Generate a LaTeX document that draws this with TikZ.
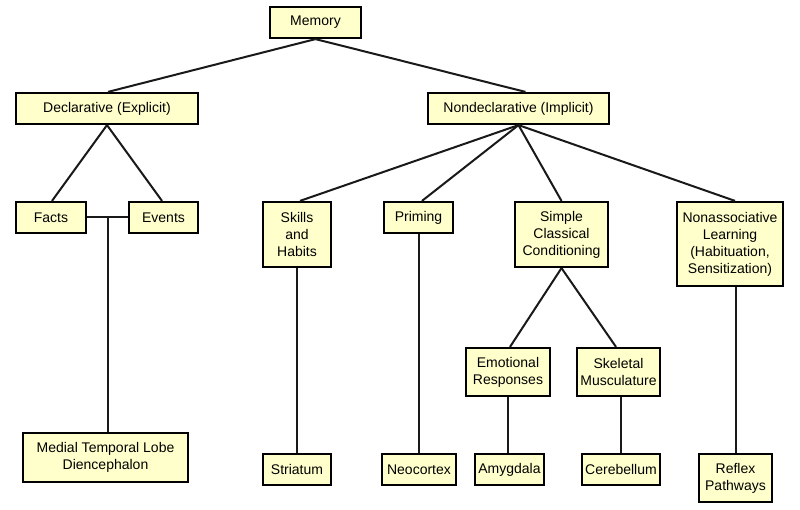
\documentclass[tikz,border=0pt]{standalone}
\usepackage{fontspec}
\setmainfont{Liberation Sans}
\usetikzlibrary{calc}
\definecolor{boxfill}{HTML}{FFFFCC}
\begin{document}
\begin{tikzpicture}[x=1pt,y=-1pt,
  box/.style={draw=black,fill=boxfill,line width=2.2pt,inner sep=0pt,align=center,
    font=\fontsize{14pt}{17pt}\selectfont},
  link/.style={draw=black!90,line width=2pt}]
\useasboundingbox[fill=white] (0,0) rectangle (800,510);
\node[box,minimum width=91,minimum height=31] (mem) at (315.5,22.5) {Memory};
\node[box,minimum width=182,minimum height=31] (decl) at (107,108.5) {Declarative (Explicit)};
\node[box,minimum width=181,minimum height=31] (nd) at (518.5,108.5) {Nondeclarative (Implicit)};
\node[box,minimum width=70,minimum height=31] (facts) at (51,217.5) {Facts};
\node[box,minimum width=69,minimum height=31] (events) at (163.5,217.5) {Events};
\node[box,minimum width=68,minimum height=65] (skills) at (297,234.5) {Skills\\and\\Habits};
\node[box,minimum width=69,minimum height=31] (prim) at (418.5,217.5) {Priming};
\node[box,minimum width=93,minimum height=65] (scc) at (561.5,234.5) {Simple\\Classical\\Conditioning};
\node[box,minimum width=106,minimum height=84] (na) at (730,244) {Nonassociative\\Learning\\(Habituation,\\Sensitization)};
\node[box,minimum width=84,minimum height=48] (emo) at (508,372) {Emotional\\Responses};
\node[box,minimum width=83,minimum height=48] (skel) at (618.5,372) {Skeletal\\Musculature};
\node[box,minimum width=165,minimum height=49] (mtl) at (105.5,457.5) {Medial Temporal Lobe\\Diencephalon};
\node[box,minimum width=68,minimum height=31] (str) at (297,469.5) {Striatum};
\node[box,minimum width=74,minimum height=31] (neo) at (419,469.5) {Neocortex};
\node[box,minimum width=69,minimum height=31] (amy) at (509.5,469.5) {Amygdala};
\node[box,minimum width=78,minimum height=31] (cer) at (621,469.5) {Cerebellum};
\node[box,minimum width=73,minimum height=48] (ref) at (735.5,478) {Reflex\\Pathways};
\coordinate (j) at ($(facts.east)!0.5!(events.west)$);
\draw[link] (mem.south) -- ([xshift=1pt]decl.north);
\draw[link] (mem.south) -- ([xshift=7pt]nd.north);
\draw[link] (decl.south) -- ([xshift=1pt]facts.north);
\draw[link] (decl.south) -- ([xshift=-1.5pt]events.north);
\draw[link] (facts.east) -- (events.west);
\draw[link] (j) -- (j |- mtl.north);
\draw[link] (nd.south) -- ([xshift=3pt]skills.north);
\draw[link] (nd.south) -- ([xshift=3.5pt]prim.north);
\draw[link] (nd.south) -- (scc.north);
\draw[link] (nd.south) -- ([xshift=5pt]na.north);
\draw[link] (scc.south) -- ([xshift=2pt]emo.north);
\draw[link] (scc.south) -- ([xshift=-2.5pt]skel.north);
\draw[link] (skills.south) -- (str.north);
\draw[link] (neo.north |- prim.south) -- (neo.north);
\draw[link] (emo.south) -- (emo.south |- amy.north);
\draw[link] (cer.north |- skel.south) -- (cer.north);
\draw[link] (ref.north |- na.south) -- (ref.north);
\end{tikzpicture}
\end{document}
